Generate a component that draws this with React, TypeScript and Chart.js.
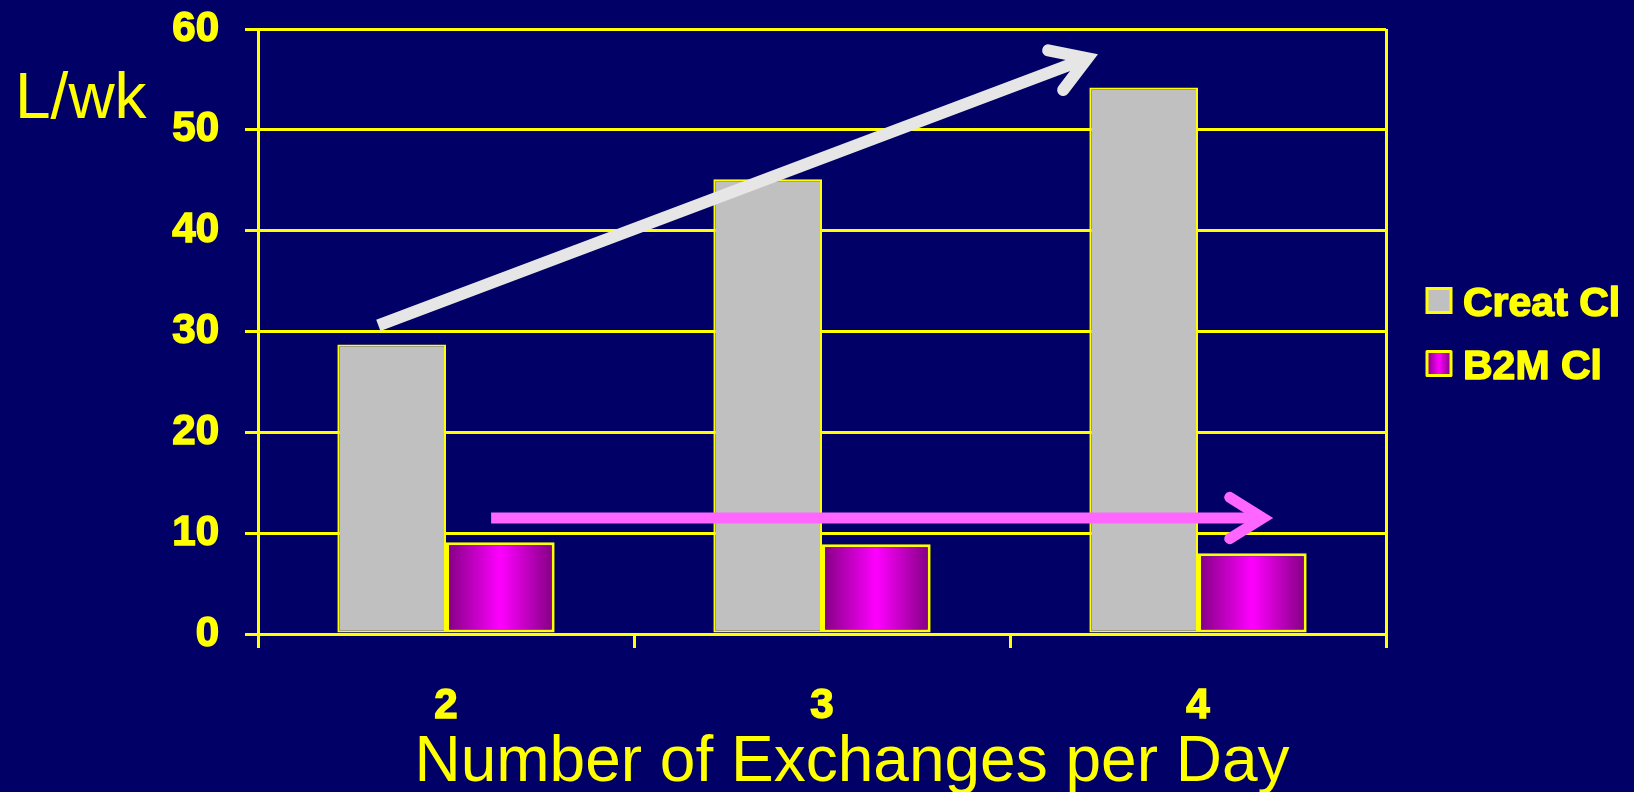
import React, { useEffect, useRef } from 'react';
import { Chart, registerables } from 'chart.js';

Chart.register(...registerables);

// ---- data ----
const categories = ['2', '3', '4'];
const creatValues = [28.7, 45.1, 54.2];
const b2mValues = [9.1, 8.9, 8.0];
const seriesLabels = ['Creat Cl', 'B2M Cl'];
const yMin = 0;
const yMax = 60;
const yStep = 10;
const yAxisLabel = 'L/wk';
const xAxisLabel = 'Number of Exchanges per Day';
// trend arrows, in data units: [category index, value]
const creatTrendArrow = [[-0.18, 30.6], [1.734, 57.5]];
const b2mTrendArrow = [[0.12, 11.5], [2.2, 11.5]];

// ---- styles ----
const FONT = "'Liberation Sans', Arial, Helvetica, sans-serif";
const YELLOW = '#ffff00';
const BG = '#000066';
const GREY = '#c0c0c0';
const MAGENTA = '#ff00ff';
const DARK_MAGENTA = '#800080';

function magentaGradient(ctx: CanvasRenderingContext2D, x0: number, x1: number) {
  const g = ctx.createLinearGradient(x0, 0, x1, 0);
  g.addColorStop(0, DARK_MAGENTA);
  g.addColorStop(0.5, MAGENTA);
  g.addColorStop(1, DARK_MAGENTA);
  return g;
}

function drawArrow(
  ctx: CanvasRenderingContext2D,
  x0: number, y0: number, x1: number, y1: number,
  color: string, lw: number, headLen: number, headAngle: number
) {
  const ang = Math.atan2(y1 - y0, x1 - x0);
  const back = lw / 2 / Math.sin(headAngle);
  const vx = x1 - back * Math.cos(ang);
  const vy = y1 - back * Math.sin(ang);
  ctx.save();
  ctx.strokeStyle = color;
  ctx.lineWidth = lw;
  ctx.lineCap = 'butt';
  ctx.beginPath();
  ctx.moveTo(x0, y0);
  ctx.lineTo(vx, vy);
  ctx.stroke();
  ctx.lineCap = 'round';
  ctx.lineJoin = 'miter';
  ctx.miterLimit = 10;
  ctx.beginPath();
  ctx.moveTo(vx - headLen * Math.cos(ang - headAngle), vy - headLen * Math.sin(ang - headAngle));
  ctx.lineTo(vx, vy);
  ctx.lineTo(vx - headLen * Math.cos(ang + headAngle), vy - headLen * Math.sin(ang + headAngle));
  ctx.stroke();
  ctx.restore();
}

const decorPlugin = {
  id: 'decor',
  beforeDraw(chart: any) {
    const ctx = chart.ctx;
    ctx.save();
    ctx.fillStyle = BG;
    ctx.fillRect(0, 0, chart.width, chart.height);
    ctx.restore();
  },
  beforeDatasetsDraw(chart: any) {
    const meta = chart.getDatasetMeta(1);
    meta.data.forEach((el: any) => {
      const { x, width } = el.getProps(['x', 'width'], true);
      el.options.backgroundColor = magentaGradient(chart.ctx, x - width / 2, x + width / 2);
    });
  },
  afterDatasetsDraw(chart: any) {
    const ctx = chart.ctx;
    const xs = chart.scales.x;
    const ys = chart.scales.y;
    const px = (v: number) => xs.getPixelForValue(0) + v * (xs.getPixelForValue(1) - xs.getPixelForValue(0));
    const head = (32 * Math.PI) / 180;
    drawArrow(ctx, px(creatTrendArrow[0][0]), ys.getPixelForValue(creatTrendArrow[0][1]),
      px(creatTrendArrow[1][0]), ys.getPixelForValue(creatTrendArrow[1][1]), '#e6e6e6', 12, 40, head);
    drawArrow(ctx, px(b2mTrendArrow[0][0]), ys.getPixelForValue(b2mTrendArrow[0][1]),
      px(b2mTrendArrow[1][0]), ys.getPixelForValue(b2mTrendArrow[1][1]), '#ff66ff', 11, 39, head);
  },
  afterDraw(chart: any) {
    const ctx = chart.ctx;
    const area = chart.chartArea;
    ctx.save();
    ctx.fillStyle = YELLOW;
    // y axis label
    ctx.font = `64px ${FONT}`;
    ctx.textAlign = 'left';
    ctx.textBaseline = 'alphabetic';
    ctx.fillText(yAxisLabel, 15, area.top + 89);
    // x axis title
    ctx.textAlign = 'center';
    ctx.fillText(xAxisLabel, (area.left + area.right) / 2 + 30, area.bottom + 147);
    // legend
    const midY = (area.top + area.bottom) / 2;
    const rows = [midY - 31, midY + 32];
    const boxX = area.right + 41;
    const box = 24;
    ctx.font = `bold 41px ${FONT}`;
    ctx.textAlign = 'left';
    chart.data.datasets.forEach((ds: any, i: number) => {
      const cy = rows[i];
      ctx.fillStyle = i === 1 ? magentaGradient(ctx, boxX, boxX + box) : ds.legendColor;
      ctx.fillRect(boxX, cy - box / 2, box, box);
      ctx.strokeStyle = YELLOW;
      ctx.lineWidth = 3;
      ctx.strokeRect(boxX, cy - box / 2, box, box);
      ctx.fillStyle = YELLOW;
      ctx.lineWidth = 1.5;
      ctx.lineJoin = 'round';
      ctx.strokeText(ds.label, boxX + 36, cy + 15);
      ctx.fillText(ds.label, boxX + 36, cy + 15);
    });
    ctx.restore();
  },
};

export default function App() {
  const canvasRef = useRef<HTMLCanvasElement | null>(null);

  useEffect(() => {
    document.body.style.margin = '0';
    const canvas = canvasRef.current;
    if (!canvas) return;
    const chart = new Chart(canvas, {
      type: 'bar',
      data: {
        labels: categories,
        datasets: [
          {
            label: seriesLabels[0],
            data: creatValues,
            backgroundColor: GREY,
            legendColor: GREY,
            borderColor: YELLOW,
            borderWidth: 2,
            borderSkipped: false,
            categoryPercentage: 0.578,
            barPercentage: 1,
          } as any,
          {
            label: seriesLabels[1],
            data: b2mValues,
            backgroundColor: () => MAGENTA,
            legendColor: MAGENTA,
            borderColor: YELLOW,
            borderWidth: 3,
            borderSkipped: false,
            categoryPercentage: 0.578,
            barPercentage: 1,
          } as any,
        ],
      },
      options: {
        responsive: false,
        animation: false,
        devicePixelRatio: 1,
        layout: { padding: { left: 0, top: 29, right: 248, bottom: 0 } },
        plugins: {
          legend: { display: false },
          tooltip: { enabled: false },
          title: { display: false },
        },
        scales: {
          x: {
            afterFit: (s: any) => {
              s.height = 158;
              s.paddingLeft = 0;
              s.paddingRight = 0;
            },
            grid: {
              display: true,
              drawOnChartArea: true,
              color: (c: any) => (c.type === 'scale' ? YELLOW : 'rgba(0,0,0,0)'),
              tickColor: YELLOW,
              lineWidth: 3,
              tickLength: 14,
            },
            border: { display: true, color: YELLOW, width: 3 },
            ticks: {
              color: YELLOW,
              textStrokeColor: YELLOW,
              textStrokeWidth: 1.5,
              font: { family: FONT, size: 42, weight: 'bold' },
              padding: 33,
            },
          },
          y: {
            min: yMin,
            max: yMax,
            afterFit: (s: any) => {
              s.width = 258;
              s.paddingTop = 0;
              s.paddingBottom = 0;
            },
            grid: {
              color: YELLOW,
              lineWidth: 3,
              tickLength: 13,
            },
            border: { display: true, color: YELLOW, width: 3 },
            ticks: {
              stepSize: yStep,
              color: YELLOW,
              textStrokeColor: YELLOW,
              textStrokeWidth: 1.5,
              font: { family: FONT, size: 42, weight: 'bold' },
              padding: 26,
            },
          },
        },
      } as any,
      plugins: [decorPlugin],
    });
    return () => chart.destroy();
  }, []);

  return (
    <div style={{ position: 'fixed', left: 0, top: 0, width: 1634, height: 792, background: BG }}>
      <canvas ref={canvasRef} width={1634} height={792} style={{ display: 'block' }} />
    </div>
  );
}
